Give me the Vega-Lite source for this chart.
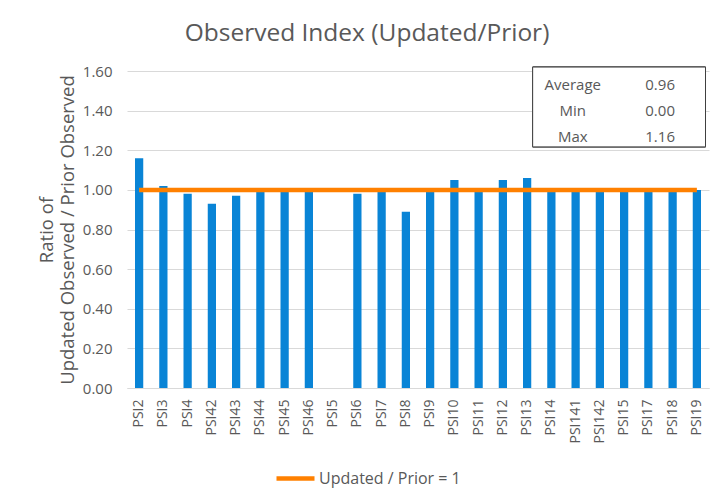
{
  "$schema": "https://vega.github.io/schema/vega-lite/v6.json",
  "width": 582,
  "height": 317,
  "autosize": "none",
  "padding": {"left": 127, "top": 71, "right": 9, "bottom": 114},
  "background": "white",
  "title": {
    "text": "Observed Index (Updated/Prior)",
    "fontSize": 24.5,
    "font": "Open Sans",
    "fontWeight": "normal",
    "color": "#595959",
    "anchor": "middle",
    "dx": -51,
    "offset": 18
  },
  "datasets": {
    "psi": [
      {"psi": "PSI2", "ratio": 1.16},
      {"psi": "PSI3", "ratio": 1.02},
      {"psi": "PSI4", "ratio": 0.98},
      {"psi": "PSI42", "ratio": 0.93},
      {"psi": "PSI43", "ratio": 0.97},
      {"psi": "PSI44", "ratio": 0.99},
      {"psi": "PSI45", "ratio": 0.99},
      {"psi": "PSI46", "ratio": 0.99},
      {"psi": "PSI5", "ratio": 0.0},
      {"psi": "PSI6", "ratio": 0.98},
      {"psi": "PSI7", "ratio": 0.99},
      {"psi": "PSI8", "ratio": 0.89},
      {"psi": "PSI9", "ratio": 0.99},
      {"psi": "PSI10", "ratio": 1.05},
      {"psi": "PSI11", "ratio": 0.99},
      {"psi": "PSI12", "ratio": 1.05},
      {"psi": "PSI13", "ratio": 1.06},
      {"psi": "PSI14", "ratio": 0.99},
      {"psi": "PSI141", "ratio": 0.99},
      {"psi": "PSI142", "ratio": 0.99},
      {"psi": "PSI15", "ratio": 0.99},
      {"psi": "PSI17", "ratio": 0.99},
      {"psi": "PSI18", "ratio": 0.99},
      {"psi": "PSI19", "ratio": 1.0}
    ],
    "stats": [
      {"stat": "Average", "value": "0.96", "row": 1},
      {"stat": "Min", "value": "0.00", "row": 2},
      {"stat": "Max", "value": "1.16", "row": 3}
    ]
  },
  "layer": [
    {
      "data": {"name": "psi"},
      "layer": [
        {
          "mark": {"type": "bar", "color": "#0984D6", "width": {"band": 0.34}},
          "encoding": {
            "x": {
              "field": "psi",
              "type": "nominal",
              "sort": null,
              "scale": {"paddingInner": 0, "paddingOuter": 0},
              "axis": {
                "title": null,
                "labelAngle": -90,
                "labelFontSize": 14,
                "labelPadding": 11,
                "ticks": false,
                "domainColor": "#D9D9D9",
                "domainWidth": 1,
                "grid": false
              }
            },
            "y": {
              "field": "ratio",
              "type": "quantitative",
              "scale": {"domain": [0, 1.6], "nice": false},
              "axis": {
                "title": ["Ratio of\u00a0\u00a0\u00a0\u00a0\u00a0\u00a0\u00a0\u00a0\u00a0\u00a0\u00a0\u00a0\u00a0\u00a0", "Updated Observed / Prior Observed"],
                "titleFontSize": 18.5,
                "titleLineHeight": 21,
                "titlePadding": 5,
                "values": [0, 0.2, 0.4, 0.6, 0.8, 1.0, 1.2, 1.4, 1.6],
                "tickCount": 12,
                "format": ".2f",
                "labelFontSize": 15,
                "labelPadding": 15,
                "labelOverlap": false,
                "ticks": false,
                "domain": false,
                "grid": true,
                "gridColor": "#D9D9D9",
                "gridWidth": 1
              }
            }
          }
        },
        {
          "mark": {"type": "line", "strokeWidth": 4.5, "strokeCap": "butt"},
          "encoding": {
            "x": {"field": "psi", "type": "nominal", "sort": null},
            "y": {"datum": 1, "type": "quantitative"},
            "color": {
              "datum": "Updated / Prior = 1",
              "scale": {"range": ["#FF8000"]},
              "legend": {
                "title": null,
                "orient": "none",
                "legendX": 147,
                "legendY": 386,
                "padding": 0,
                "symbolType": "stroke",
                "symbolSize": 1444,
                "symbolStrokeWidth": 4.5,
                "labelFontSize": 16,
                "labelColor": "#595959",
                "labelFont": "Open Sans",
                "labelOffset": 2
              }
            }
          }
        }
      ]
    },
    {
      "data": {"name": "stats"},
      "layer": [
        {
          "mark": {"type": "rect", "fill": "white", "stroke": "#404040", "strokeWidth": 1, "clip": false},
          "encoding": {
            "x": {"datum": 0.697, "type": "quantitative", "scale": {"domain": [0, 1]}, "axis": null},
            "x2": {"datum": 0.994},
            "y": {"datum": 0.31, "type": "quantitative", "scale": {"domain": [0.4615, 12.654], "reverse": true, "nice": false, "zero": false}, "axis": null},
            "y2": {"datum": 3.38}
          }
        },
        {
          "mark": {"type": "text", "fontSize": 15, "color": "#595959", "align": "center", "baseline": "middle", "font": "Open Sans"},
          "encoding": {
            "x": {"datum": 0.766, "type": "quantitative"},
            "y": {"field": "row", "type": "quantitative"},
            "text": {"field": "stat"}
          }
        },
        {
          "mark": {"type": "text", "fontSize": 15, "color": "#595959", "align": "center", "baseline": "middle", "font": "Open Sans"},
          "encoding": {
            "x": {"datum": 0.916, "type": "quantitative"},
            "y": {"field": "row", "type": "quantitative"},
            "text": {"field": "value"}
          }
        }
      ]
    }
  ],
  "resolve": {"scale": {"x": "independent", "y": "independent"}},
  "config": {
    "font": "Open Sans",
    "view": {"stroke": null},
    "axis": {
      "labelColor": "#595959",
      "titleColor": "#595959",
      "labelFont": "Open Sans",
      "titleFont": "Open Sans",
      "titleFontWeight": "normal"
    }
  }
}
